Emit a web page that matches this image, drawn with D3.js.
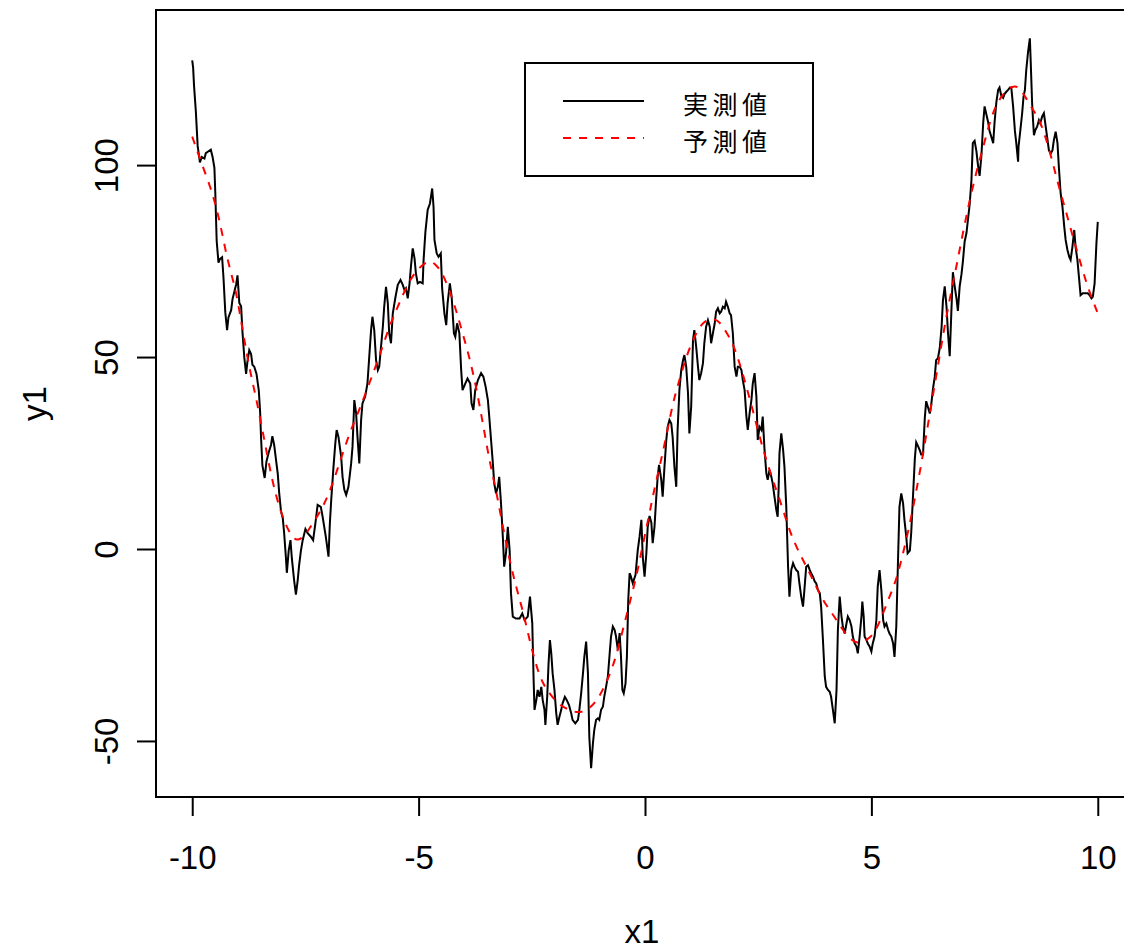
<!DOCTYPE html>
<meta charset="utf-8">
<script src="https://d3js.org/d3.v7.min.js"></script>
<style>
  body { margin: 0; background: #fff; }
  text { font-family: "Liberation Sans", Arial, sans-serif; fill: #000; }
</style>
<div id="my_dataviz"></div>

<script>
// tick values and labels
var xTicks = [-10, -5, 0, 5, 10];
var yTicks = [-50, 0, 50, 100];
var xLabel = "x1";
var yLabel = "y1";
var legendLabels = ["実測値", "予測値"];

var actualX = [
  -10.00,-9.98,-9.96,-9.92,-9.88,-9.83,-9.79,-9.73,-9.70,-9.64,
  -9.59,-9.55,-9.51,-9.49,-9.46,-9.42,-9.39,-9.34,-9.31,-9.27,
  -9.23,-9.20,-9.14,-9.11,-9.07,-9.03,-9.00,-8.96,-8.92,-8.89,
  -8.85,-8.81,-8.78,-8.74,-8.70,-8.67,-8.63,-8.58,-8.53,-8.50,
  -8.48,-8.45,-8.40,-8.36,-8.31,-8.26,-8.23,-8.19,-8.15,-8.11,
  -8.08,-8.04,-8.00,-7.97,-7.93,-7.91,-7.87,-7.83,-7.80,-7.75,
  -7.71,-7.67,-7.64,-7.60,-7.56,-7.50,
  -7.45,-7.38,-7.33,-7.28,-7.23,-7.16,-7.12,-7.05,-6.99,-6.96,
  -6.93,-6.88,-6.84,-6.81,-6.77,-6.71,-6.68,-6.64,-6.60,-6.55,
  -6.49,-6.46,-6.42,-6.38,-6.35,-6.31,-6.27,-6.24,-6.18,-6.13,
  -6.09,-6.05,-6.02,-5.98,-5.94,-5.90,-5.87,-5.83,-5.79,-5.76,
  -5.72,-5.68,-5.65,-5.61,-5.57,-5.51,-5.46,-5.40,-5.35,-5.31,
  -5.28,-5.24,-5.20,-5.17,-5.13,-5.09,-5.06,-5.02,-4.97,-4.91,
  -4.89,-4.85,-4.80,-4.75,-4.70,-4.67,-4.65,-4.60,-4.56,-4.51,
  -4.48,-4.43,-4.39,-4.36,-4.31,-4.27,-4.22,-4.19,-4.15,-4.10,
  -4.06,-4.03,-3.97,-3.92,-3.86,-3.83,-3.79,-3.75,-3.69,-3.62,
  -3.57,-3.52,-3.47,-3.44,-3.40,-3.36,-3.33,-3.29,-3.25,-3.22,
  -3.18,-3.14,-3.11,-3.07,-3.03,-2.99,-2.96,-2.92,-2.85,-2.77,
  -2.71,-2.66,-2.59,-2.54,
  -2.49,-2.46,-2.44,-2.40,-2.37,-2.33,-2.29,-2.26,-2.22,-2.20,
  -2.16,-2.13,-2.10,-2.07,-2.04,-2.00,-1.96,-1.93,-1.89,-1.85,
  -1.82,-1.77,-1.73,-1.68,-1.63,-1.60,-1.54,-1.48,-1.45,-1.41,
  -1.37,-1.34,-1.30,-1.26,-1.23,-1.19,-1.15,-1.12,-1.08,-1.04,
  -1.01,-0.97,-0.93,-0.90,-0.86,-0.82,-0.78,-0.75,-0.71,-0.67,
  -0.64,-0.60,-0.56,-0.53,-0.50,-0.47,-0.43,-0.40,-0.37,-0.34,
  -0.31,-0.27,-0.21,-0.16,-0.12,-0.08,-0.05,-0.01,0.03,0.06,
  0.10,0.14,0.17,0.21,0.25,0.28,0.31,
  0.36,0.39,0.43,0.47,0.50,0.54,0.58,0.61,0.65,0.69,
  0.72,0.76,0.80,0.84,0.87,0.91,0.95,0.98,1.02,1.06,
  1.09,1.13,1.17,1.20,1.24,1.28,1.31,1.35,1.39,1.43,
  1.46,1.50,1.54,1.57,1.61,1.65,1.68,1.72,1.76,1.79,
  1.83,1.87,1.90,1.94,1.98,2.02,2.05,2.09,2.13,2.16,
  2.20,2.24,2.27,2.31,2.35,2.38,2.42,2.46,2.49,2.53,
  2.57,2.60,2.64,2.68,2.71,2.75,2.79,2.82,2.86,2.90,
  2.93,
  2.95,2.97,3.01,3.05,3.08,3.12,3.16,3.19,3.23,3.27,
  3.30,3.34,3.38,3.41,3.45,3.49,3.52,3.56,3.60,3.64,
  3.67,3.71,3.75,3.78,3.82,3.86,3.89,3.93,3.97,4.00,
  4.04,4.08,4.11,4.15,4.19,4.23,4.26,4.30,4.34,4.37,
  4.41,4.45,4.48,4.52,4.56,4.59,4.63,4.67,4.70,4.74,
  4.78,4.80,4.83,4.85,4.89,4.92,4.96,5.00,5.03,5.07,
  5.11,5.14,5.18,5.22,5.26,5.29,5.33,5.37,5.40,5.44,
  5.48,5.51,5.55,5.59,5.62,5.66,5.70,5.73,5.77,5.80,
  5.85,5.88,5.92,5.96,5.99,6.03,6.07,6.10,6.14,6.18,
  6.21,6.25,6.29,6.32,6.36,6.40,6.43,6.47,6.51,6.55,
  6.58,6.62,6.66,6.69,6.73,6.77,6.80,6.84,6.88,6.91,
  6.95,6.99,7.02,7.06,7.10,7.13,7.17,7.21,7.24,7.28,
  7.32,7.35,7.39,7.43,7.47,7.50,7.54,7.58,7.61,7.65,
  7.69,7.72,7.76,7.80,7.83,7.87,7.91,7.94,7.98,8.02,
  8.06,8.09,8.13,8.17,8.20,8.24,
  8.25,8.29,8.33,8.36,8.39,8.42,8.46,8.50,8.52,8.55,
  8.57,8.59,8.62,8.66,8.70,8.73,8.77,8.81,8.84,8.88,
  8.92,8.96,9.00,9.03,9.07,9.11,9.14,9.18,9.22,9.26,
  9.29,9.33,9.37,9.40,9.44,9.48,9.51,9.55,9.59,9.62,
  9.67,9.73,9.78,9.82,9.86,9.89,9.93,9.97,10.00
];
var actualY = [
  127.3,125.4,120.7,114.0,105.0,100.7,102.1,101.7,103.1,103.6,
  104.0,102.1,99.3,92.6,80.3,74.6,75.5,76.0,70.8,61.7,
  57.0,60.3,62.2,65.1,67.0,68.9,71.3,64.1,63.2,56.5,
  49.9,45.6,48.9,51.8,50.8,48.0,47.5,45.6,41.3,35.6,
  29.0,21.8,18.5,22.8,25.2,27.1,29.4,27.1,23.3,19.5,
  14.7,9.9,8.0,4.2,-2.4,-6.2,-0.5,2.3,-2.4,-8.1,
  -11.9,-8.1,-4.3,-0.5,2.3,5.2,
  4.1,3.2,2.3,6.7,11.5,11.0,8.4,3.2,-2.0,6.7,
  12.8,21.4,27.5,31.0,29.2,24.0,18.8,15.4,14.1,16.2,
  22.3,26.6,38.8,35.3,29.2,22.3,33.6,37.9,39.7,43.1,
  50.1,57.0,60.5,57.0,49.2,46.6,47.5,52.7,57.9,63.1,
  68.3,64.0,56.2,53.6,61.4,65.7,68.8,70.1,68.8,67.4,
  67.9,65.3,69.2,73.5,78.3,75.7,71.8,69.2,69.6,69.2,
  75.3,82.6,88.3,90.0,93.9,89.1,80.5,77.0,76.1,77.0,
  67.9,61.4,58.3,64.0,69.2,65.7,56.2,55.3,58.8,56.2,
  46.6,41.4,43.1,44.4,43.1,37.9,36.2,41.4,44.0,45.8,
  44.9,42.3,38.8,34.5,28.4,22.3,17.1,14.5,16.2,18.8,
  11.9,3.2,-4.6,-1.1,5.8,-0.3,-11.5,-17.6,-18.1,-18.1,
  -16.8,-18.5,-17.6,-12.4,
  -19.3,-34.1,-41.9,-39.3,-36.7,-38.5,-35.9,-39.3,-41.9,-45.8,
  -38.5,-29.8,-23.7,-27.2,-32.4,-36.7,-42.8,-45.8,-43.7,-41.9,
  -40.2,-38.5,-39.3,-40.6,-42.8,-44.5,-45.4,-44.5,-41.9,-37.6,
  -32.4,-28.1,-24.1,-32.4,-48.9,-57.1,-50.6,-47.1,-44.5,-44.1,
  -44.5,-41.9,-41.1,-38.5,-35.9,-33.2,-27.2,-22.8,-20.2,-21.1,
  -22.8,-26.3,-21.9,-28.1,-36.7,-37.6,-35.0,-28.1,-13.3,-6.3,
  -7.2,-8.9,-6.8,-0.3,3.2,7.6,-2.0,-7.2,-1.1,5.8,
  8.6,6.9,1.5,5.8,13.7,18.8,21.9,
  18.0,13.6,21.4,28.4,31.8,33.6,32.7,29.2,21.4,16.2,
  31.0,41.4,46.6,49.2,50.5,47.5,40.5,30.1,37.1,54.4,
  57.0,52.7,47.5,44.0,45.8,48.4,53.6,57.9,59.6,57.9,
  53.6,56.2,58.8,61.8,62.7,61.4,61.8,63.1,62.7,64.4,
  63.1,61.4,60.9,56.2,47.5,44.9,47.5,47.5,46.6,44.0,
  41.4,34.5,31.0,35.3,38.8,43.1,45.8,39.7,28.4,31.8,
  31.0,34.5,25.8,19.7,18.0,20.6,18.8,17.1,13.6,10.2,
  8.4,
  15.4,24.9,30.1,25.8,21.4,11.0,-4.6,-12.4,-5.5,-3.7,
  -4.6,-5.5,-5.9,-8.9,-12.4,-15.0,-10.7,-4.6,-4.2,-5.5,
  -6.3,-7.2,-8.5,-8.9,-10.7,-11.5,-15.0,-23.7,-33.2,-35.9,
  -36.7,-37.2,-38.5,-41.9,-45.4,-36.7,-21.1,-12.4,-17.6,-20.2,
  -22.0,-19.4,-17.6,-18.5,-20.2,-22.8,-24.6,-25.4,-27.2,-22.8,
  -17.6,-13.7,-17.6,-22.8,-23.7,-24.6,-25.4,-26.7,-24.6,-22.8,
  -18.5,-9.8,-5.5,-10.7,-18.5,-20.2,-19.4,-21.1,-22.0,-22.8,
  -24.6,-28.1,-20.2,-2.0,11.0,14.5,11.9,7.6,3.2,-1.1,
  -0.4,4.3,14.0,23.6,27.8,26.8,25.7,24.6,24.6,34.2,
  38.5,36.9,35.3,37.4,41.7,44.9,49.2,49.7,52.4,57.7,
  64.7,68.4,63.0,56.6,50.2,63.0,72.1,68.4,65.2,62.0,
  68.4,71.6,74.8,80.1,82.3,85.5,89.7,96.1,105.7,106.3,
  103.6,100.4,97.2,102.5,111.1,115.3,113.2,111.1,108.9,107.3,
  105.7,111.1,116.4,119.6,120.2,118.0,117.5,118.5,119.1,119.6,
  120.2,120.2,115.3,108.9,105.7,100.9,
  104.8,109.1,113.5,117.8,119.5,124.7,129.5,133.0,126.5,116.1,
  111.7,107.8,109.1,110.0,111.7,110.9,112.6,113.5,110.9,107.4,
  103.9,103.0,103.9,106.5,108.7,105.7,99.6,92.6,89.1,83.9,
  80.5,77.9,76.1,75.3,78.7,83.1,78.7,75.3,70.1,66.1,
  66.6,66.6,66.6,66.1,65.3,65.7,69.2,79.6,85.2
];

// predicted values (red dashed line)
var predX = [
  -10,-9.81,-9.59,-9.48,-9.37,-9.26,-9.14,-9.03,-8.92,-8.81,
  -8.70,-8.59,-8.48,-8.37,-8.23,-8.08,-7.93,-7.78,-7.67,-7.52,
  -7.41,-7.19,-6.97,-6.75,-6.53,-6.31,-6.09,-5.87,-5.65,-5.43,
  -5.20,-4.98,-4.76,-4.61,-4.47,-4.32,-4.17,-4.03,-3.88,-3.73,
  -3.58,-3.44,-3.29,-3.14,-2.99,-2.85,-2.70,-2.55,-2.40,-2.26,
  -2.11,-1.96,-1.82,-1.67,-1.52,-1.37,-1.23,-1.08,-0.93,-0.78,
  -0.64,-0.49,-0.34,-0.19,-0.05,0.10,0.17,0.32,0.47,0.61,
  0.76,0.91,1.06,1.20,1.35,1.50,1.65,1.79,1.94,2.09,
  2.24,2.38,2.53,2.68,2.82,2.90,3.05,3.19,3.34,3.49,
  3.64,3.78,3.93,4.08,4.23,4.37,4.52,4.67,4.81,4.96,
  5.11,5.26,5.40,5.55,5.70,5.85,5.99,6.14,6.29,6.43,
  6.58,6.73,6.88,7.02,7.17,7.32,7.47,7.61,7.76,7.91,
  8.06,8.17,8.28,8.42,8.57,8.72,8.87,9.01,9.16,9.31,
  9.45,9.60,9.75,9.90,10
];
var predY = [
  107.4,101.0,94.0,89.5,84.1,77.4,71.7,67.0,59.4,51.8,
  45.1,39.4,32.8,26.1,17.6,10.9,6.1,2.8,2.2,3.3,
  5.4,9.3,14.5,22.3,30.1,36.2,43.1,50.1,57.9,64.0,
  70.1,73.5,75.3,74.0,71.8,67.4,62.2,56.2,50.1,42.3,
  32.7,23.2,15.4,5.8,-2.9,-9.8,-15.9,-23.7,-30.6,-35.0,
  -37.6,-39.8,-41.1,-41.9,-42.6,-42.4,-41.5,-39.8,-36.7,-32.8,
  -28.1,-21.1,-14.1,-7.2,1.0,9.3,13.6,21.4,29.2,37.9,
  44.0,50.1,54.4,57.9,59.6,60.1,59.2,56.6,53.6,48.4,
  42.3,36.2,29.2,23.2,18.0,15.4,10.2,4.9,0.6,-2.9,
  -6.3,-9.8,-13.3,-15.9,-18.5,-21.1,-23.3,-24.6,-24.1,-23.3,
  -21.1,-16.7,-12.4,-8.1,-1.2,6.5,15.0,24.6,35.3,44.9,
  55.6,65.2,73.7,82.3,90.8,98.3,104.7,111.1,115.9,118.5,
  120.2,120.7,120.0,117.4,114.3,111.7,106.5,100.4,93.5,87.4,
  81.3,75.3,69.2,64.4,61.4
];

// set the dimensions and margins of the graph
var margin = {top: 10, right: -10, bottom: 153, left: 156},
    width = 1124 - margin.left - margin.right,
    height = 950 - margin.top - margin.bottom;

var svg = d3.select("#my_dataviz")
  .append("svg")
    .attr("width", 1124)
    .attr("height", 950)
    .style("display", "block")
    .style("overflow", "hidden")
  .append("g")
    .attr("transform", "translate(" + margin.left + "," + margin.top + ")");

// scales (R extends the data range by 4% on each side)
var x = d3.scaleLinear()
  .domain([-10.8, 10.8])
  .range([0, width]);
var y = d3.scaleLinear()
  .domain([-64.6, 140.4])
  .range([height, 0]);

var fmt = function(d) { return String(d); };

// X axis
var gx = svg.append("g")
  .attr("transform", "translate(0," + height + ")")
  .call(d3.axisBottom(x).tickValues(xTicks).tickSize(19).tickFormat(fmt));
gx.select(".domain").remove();
gx.selectAll("line").attr("stroke", "#000").attr("stroke-width", 2);
gx.selectAll("text")
  .attr("y", 72)
  .attr("dy", null)
  .attr("fill", "#000")
  .style("font-family", "'Liberation Sans', Arial, sans-serif")
  .style("font-size", "33px");

// Y axis
var gy = svg.append("g")
  .call(d3.axisLeft(y).tickValues(yTicks).tickSize(19).tickFormat(fmt));
gy.select(".domain").remove();
gy.selectAll("line").attr("stroke", "#000").attr("stroke-width", 2);
gy.selectAll("text")
  .attr("x", null)
  .attr("dy", null)
  .attr("transform", "translate(-38,0) rotate(-90)")
  .attr("text-anchor", "middle")
  .attr("fill", "#000")
  .style("font-family", "'Liberation Sans', Arial, sans-serif")
  .style("font-size", "33px");

// axis titles
svg.append("text")
  .attr("x", width / 2 - 3)
  .attr("y", height + 146)
  .attr("text-anchor", "middle")
  .style("font-size", "33px")
  .text(xLabel);
svg.append("text")
  .attr("transform", "translate(" + (46 - margin.left) + "," + (height / 2) + ") rotate(-90)")
  .attr("text-anchor", "middle")
  .style("font-size", "33px")
  .text(yLabel);

// observed line
var actual = d3.range(Math.min(actualX.length, actualY.length))
  .map(function(i) { return [actualX[i], actualY[i]]; });
svg.append("path")
  .datum(actual)
  .attr("fill", "none")
  .attr("stroke", "#000")
  .attr("stroke-width", 2)
  .attr("stroke-linejoin", "miter")
  .attr("d", d3.line()
    .x(function(d) { return x(d[0]); })
    .y(function(d) { return y(d[1]); }));

// predicted line
var pred = d3.range(Math.min(predX.length, predY.length))
  .map(function(i) { return [predX[i], predY[i]]; });
svg.append("path")
  .datum(pred)
  .attr("fill", "none")
  .attr("stroke", "#ff0000")
  .attr("stroke-width", 2)
  .attr("stroke-dasharray", "8,8")
  .attr("d", d3.line()
    .curve(d3.curveBasis)
    .x(function(d) { return x(d[0]); })
    .y(function(d) { return y(d[1]); }));

// plot box
svg.append("rect")
  .attr("x", 0)
  .attr("y", 0)
  .attr("width", width)
  .attr("height", height)
  .attr("fill", "none")
  .attr("stroke", "#000")
  .attr("stroke-width", 2);

// legend
var lg = svg.append("g")
  .attr("transform", "translate(" + (525 - margin.left) + "," + (63 - margin.top) + ")");
lg.append("rect")
  .attr("width", 288)
  .attr("height", 113)
  .attr("fill", "#fff")
  .attr("stroke", "#000")
  .attr("stroke-width", 2);
var legendStyles = [
  {color: "#000", dash: null},
  {color: "#ff0000", dash: "8,8"}
];
legendLabels.forEach(function(label, i) {
  var cy = 38 + i * 37;
  lg.append("line")
    .attr("x1", 38).attr("x2", 119)
    .attr("y1", cy).attr("y2", cy)
    .attr("stroke", legendStyles[i].color)
    .attr("stroke-width", 2)
    .attr("stroke-dasharray", legendStyles[i].dash);
  lg.append("text")
    .attr("x", 158)
    .attr("y", cy + 13)
    .style("font-family", "'Noto Sans CJK JP', sans-serif")
    .style("font-size", "25px")
    .style("letter-spacing", "4.5px")
    .text(label);
});
</script>
